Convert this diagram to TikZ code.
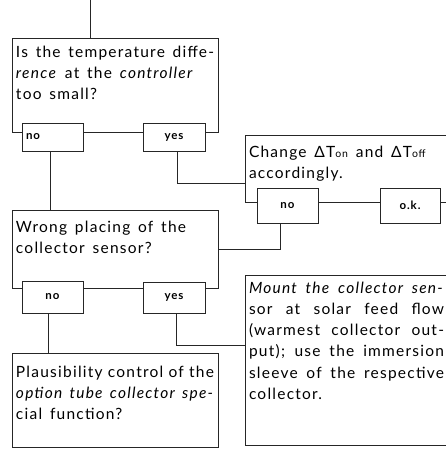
\documentclass[tikz,border=0pt]{standalone}
\usepackage{fontspec}
\setmainfont[LetterSpace=8, WordSpace=1.5]{Lato}

% text block of a question box: width, height, depth of first baseline, text
\newcommand{\boxtext}[4]{\parbox[c][#2][t]{#1}{\rule{0pt}{#3}#4}}
\newcommand{\sline}[1]{\makebox[195pt][s]{#1}}

\tikzset{
    qbox/.style={draw=black!85, line width=0.8pt, fill=white, inner xsep=4pt, inner ysep=0pt,
        font=\fontsize{15.5}{21.3}\selectfont},
    answer/.style={draw=black!85, line width=0.8pt, fill=white, inner sep=0pt,
        font=\bfseries\fontsize{11.5}{12}\selectfont},
    link/.style={draw=black!85, line width=0.8pt}
}

\begin{document}
\begin{tikzpicture}[x=1pt, y=-1pt]
    \useasboundingbox (0,0) rectangle (446,450);

    % Question boxes
    \node[qbox] (quest1) at (115,85)
        {\boxtext{198pt}{94pt}{19pt}{Is the temperature diffe-\\ \textit{rence} at the \textit{controller}\\ too small?}};
    \node[qbox] (quest2) at (115,249)
        {\boxtext{198pt}{78pt}{22pt}{Wrong placing of the\\ collector sensor?}};
    \node[qbox] (plaus) at (115,400)
        {\boxtext{198pt}{94pt}{24pt}{Plausibility control of the\\ \textit{option tube collector spe-}\\ cial function?}};

    % Action boxes (cut at the right edge)
    \node[qbox] (change) at (348.5,168.5)
        {\boxtext{199pt}{67pt}{22pt}{Change ΔT{\fontsize{10.5}{12}\selectfont on} and ΔT{\fontsize{10.5}{12}\selectfont off}\\ accordingly.}};
    \node[qbox] (mount) at (348.5,360)
        {\boxtext{199pt}{170pt}{18pt}{\sline{\textit{Mount the collector sen-}}\\
            \sline{sor at solar feed flow}\\ \sline{(warmest collector out-}\\
            \sline{put); use the immersion}\\ \sline{sleeve of the respective}\\ collector.}};

    % Answer boxes
    \node[answer, minimum width=61pt, minimum height=28pt, text width=53pt, align=left] (no1) at (52.5,137) {no};
    \node[answer, minimum width=62pt, minimum height=28pt] (yes1) at (174,137) {yes};
    \node[answer, minimum width=61pt, minimum height=32pt] (no2) at (52.5,297) {no};
    \node[answer, minimum width=62pt, minimum height=31pt] (yes2) at (174,297.5) {yes};
    \node[answer, minimum width=61pt, minimum height=35pt] (no3) at (287.5,205.5) {no};
    \node[answer, minimum width=60pt, minimum height=35pt] (ok3) at (410,205.5) {o.k.};

    % Connectors
    \coordinate (start) at (90,0);
    \draw[link] (start) -- (start |- quest1.north);
    \draw[link] ([xshift=-2.5pt]no1.south) -- ([xshift=-2.5pt]no1.south |- quest2.north);
    \draw[link] ([xshift=3pt]yes1.south) |- ([yshift=-14.5pt]change.west);
    \draw[link] ([xshift=-7pt]no3.south) |- (quest2.east);
    \draw[link] ([xshift=-4pt]no2.south) -- ([xshift=-4pt]no2.south |- plaus.north);
    \draw[link] ([xshift=2pt]yes2.south) |- ([yshift=15pt]mount.west);
\end{tikzpicture}
\end{document}
